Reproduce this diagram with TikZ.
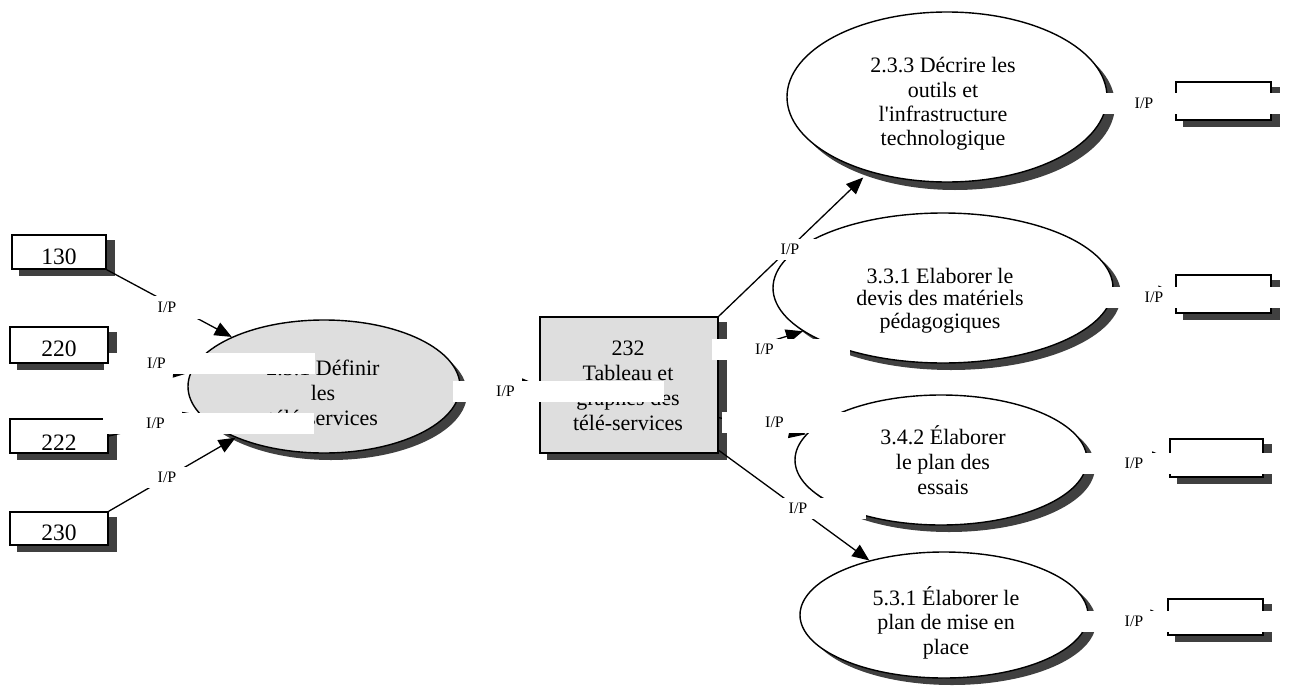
\documentclass[tikz,border=0pt]{standalone}
\usepackage{fontspec}
\setmainfont{Liberation Serif}
\usetikzlibrary{shapes.geometric,arrows.meta,calc}
\definecolor{shadowgray}{RGB}{64,64,64}
\definecolor{procgray}{RGB}{222,222,222}
\pgfdeclarelayer{shadowlayer}
\pgfdeclarelayer{labellayer}
\pgfdeclarelayer{toplayer}
\pgfsetlayers{shadowlayer,main,labellayer,toplayer}
\begin{document}
\begin{tikzpicture}[x=1pt,y=-1pt,
  every node/.style={font=\fontsize{22}{25}\selectfont, inner sep=0pt},
  boxn/.style={draw, line width=1.5pt, fill=white, rectangle, text depth=0pt,
               font=\fontsize{23.5}{26}\selectfont},
  proc/.style={draw, line width=1.4pt, ellipse, fill=white},
  txt/.style={align=center},
  conn/.style={draw, line width=1.3pt, -{Triangle[length=17pt,width=14pt]}},
  iplab/.style={fill=white, minimum height=21pt, text width=#1, align=left,
                font=\fontsize{16}{18}\selectfont, anchor=west},
  iplab/.default=211pt
]
\useasboundingbox (0,0) rectangle (1290,688);

% processes
\node[proc, fill=procgray, minimum width=272pt, minimum height=133pt] (e231) at (324,386.5) {};
\node[proc, minimum width=320pt, minimum height=170pt] (e233) at (947,97) {};
\node[proc, minimum width=340pt, minimum height=150pt] (e331) at (943,288) {};
\node[proc, minimum width=292pt, minimum height=130pt] (e342) at (941,460) {};
\node[proc, minimum width=288pt, minimum height=126pt] (e531) at (944,615) {};

% boxes
\node[boxn, minimum width=94pt, minimum height=34pt, text height=24pt] (b130) at (59,252) {130};
\node[boxn, minimum width=98pt, minimum height=34pt, text height=28pt] (b222) at (59,436) {222};
\node[boxn, minimum width=98pt, minimum height=33pt, text height=23pt] (b230) at (59,528.5) {230};
\node[boxn, fill=procgray, minimum width=178pt, minimum height=136pt] (b232) at (629,385) {};
\node[boxn, minimum width=95pt, minimum height=38pt] (o233) at (1223.5,101) {};
\node[boxn, minimum width=95pt, minimum height=38pt] (o331) at (1223.5,294) {};
\node[boxn, minimum width=93pt, minimum height=38pt] (o342) at (1216.5,458) {};
\node[boxn, minimum width=95pt, minimum height=36pt] (o531) at (1215.5,617) {};
\begin{pgfonlayer}{toplayer}
\node[boxn, minimum width=98pt, minimum height=36pt, text height=22pt] (b220) at (59,345) {220};
\end{pgfonlayer}

% texts
\node[txt] (t231) at (323,392.6) {2.3.1 Définir\\les\\télé-services};
\node[txt] (t232) at (628,386.2) {232\\Tableau et\\graphes des\\télé-services};
\node[txt, font=\fontsize{22}{24.2}\selectfont] (t233) at (943,104) {2.3.3 Décrire les\\outils et\\l\textquotesingle infrastructure\\technologique};
\node[txt, font=\fontsize{22}{22.5}\selectfont] (t331) at (940,300.4) {3.3.1 Elaborer le\\devis des matériels\\pédagogiques};
\node[txt] (t342) at (943,460.3) {3.4.2 Élaborer\\le plan des\\essais};
\node[txt, font=\fontsize{22}{24.5}\selectfont] (t531) at (946,622.5) {5.3.1 Élaborer le\\plan de mise en\\place};

% shadows
\begin{pgfonlayer}{shadowlayer}
\foreach \n in {b130,b220,b222,b230,b232,o233,o331,o342,o531}
  \fill[shadowgray] ($(\n.south west)+(8,6)$) rectangle ($(\n.north east)+(8,6)$);
\fill[shadowgray] ($(e231)+(7,7)$) ellipse [x radius=136pt, y radius=66.5pt];
\fill[shadowgray] ($(e233)+(8,8)$) ellipse [x radius=160pt, y radius=85pt];
\fill[shadowgray] ($(e331)+(8,7)$) ellipse [x radius=170pt, y radius=75pt];
\fill[shadowgray] ($(e342)+(8,7)$) ellipse [x radius=146pt, y radius=65pt];
\fill[shadowgray] ($(e531)+(8,7)$) ellipse [x radius=144pt, y radius=63pt];
\end{pgfonlayer}

% connectors
\draw[conn] (b130.south east) -- (e231);
\draw[conn] (b220.south east) -- (e231);
\draw[conn] (b222.east) -- (e231);
\draw[conn] (b230.north east) -- (e231);
\draw[conn] (e231) -- (b232);
\draw[conn, shorten >=8pt] (b232.north east) -- (e233);
\draw[conn] (b232) -- (e331);
\draw[conn] (b232.-20) -- (e342);
\draw[conn] (b232) -- (e531);
\draw[conn] (e233) -- (o233);
\draw[conn] (e331) -- (o331);
\draw[conn] (e342) -- (o342);
\draw[conn] (e531) -- (o531);

% labels
\begin{pgfonlayer}{labellayer}
\node[iplab=120pt, minimum height=23pt] (l1) at (114.5,307) {\hspace*{43pt}I/P};
\node[iplab] (l2) at (104,363.5) {\hspace*{43pt}I/P};
\node[iplab] (l3) at (103,423.5) {\hspace*{43pt}I/P};
\node[iplab=120pt] (l4) at (114.5,477.5) {\hspace*{43pt}I/P};
\node[iplab] (l5) at (453,391.5) {\hspace*{43pt}I/P};
\node[iplab=100pt] (l6) at (737.5,249) {\hspace*{43pt}I/P};
\node[iplab=138pt] (l7) at (712,349) {\hspace*{43pt}I/P};
\node[iplab=128pt] (l8) at (722,422) {\hspace*{43pt}I/P};
\node[iplab=120pt] (l9) at (745.5,508) {\hspace*{43pt}I/P};
\node[iplab] (l10) at (1091.5,103) {\hspace*{43pt}I/P};
\node[iplab] (l11) at (1101.5,297) {\hspace*{43pt}I/P};
\node[iplab] (l12) at (1081.5,463) {\hspace*{43pt}I/P};
\node[iplab] (l13) at (1081.5,621) {\hspace*{43pt}I/P};
\end{pgfonlayer}
\end{tikzpicture}
\end{document}
